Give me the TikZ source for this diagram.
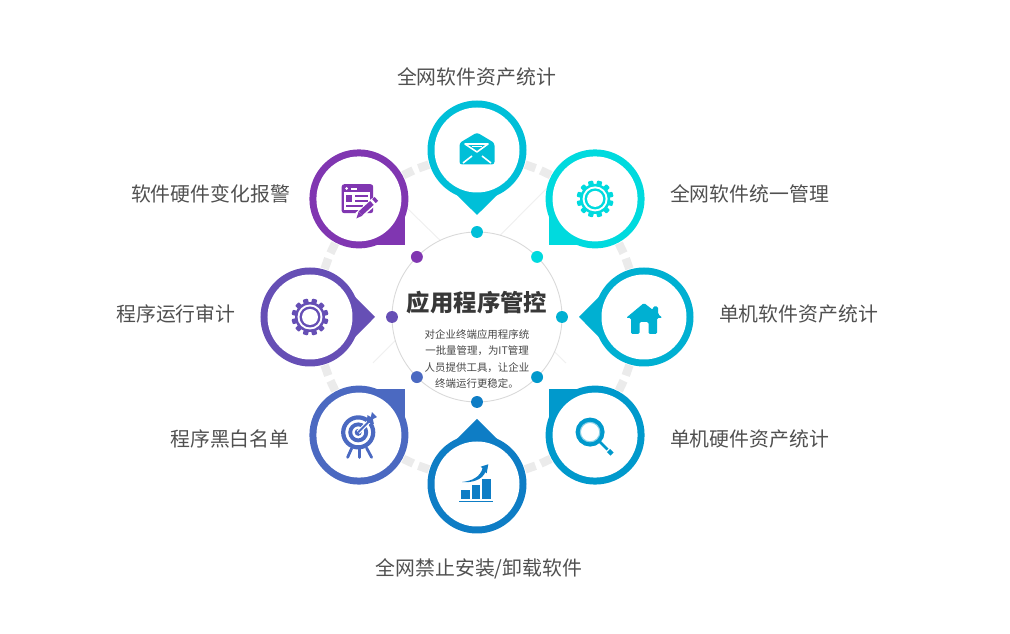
\documentclass[tikz,border=0pt]{standalone}
\usepackage{fontspec}
\setmainfont{Noto Sans CJK SC}
\definecolor{pinA}{HTML}{00BFD8}
\definecolor{pinB}{HTML}{00DADE}
\definecolor{pinC}{HTML}{00B0D2}
\definecolor{pinD}{HTML}{0099CC}
\definecolor{pinE}{HTML}{0E7DC5}
\definecolor{pinF}{HTML}{4B69C1}
\definecolor{pinG}{HTML}{664FB5}
\definecolor{pinH}{HTML}{8036B1}
\definecolor{labelgray}{HTML}{505050}
\newcommand{\gearicon}[1]{%
    \fill[#1] (0,0) circle (15);
    \foreach \tooth in {0,...,11}{
        \fill[#1,rotate=\tooth*30+15,rounded corners=0.5] (-2.6,13) rectangle (2.6,18.5);
    }
    \fill[white] (0,0) circle (12.5);
    \fill[#1] (0,0) circle (10.5);
    \fill[white] (0,0) circle (8);
}
\tikzset{
    sidelabel/.style={font=\fontsize{11.3}{13}\selectfont,text=labelgray,inner sep=0pt},
    dotnode/.style={circle,fill=#1,minimum size=6.8mm,scale=0.35,inner sep=0pt},
}
\begin{document}
\begin{tikzpicture}[x=0.02cm,y=0.02cm]
    \useasboundingbox (-477,-317) rectangle (533,317);

    % draw the thin background lines
    \draw[black!6,line width=0.6pt] (-107,145) -- (89,-46);
    \draw[black!6,line width=0.6pt] (90,149) -- (-104,-46);

    % draw the gray marks on the back ring
    \foreach \mark in {19.5,25.5,64.5,70.5,109.5,115.5,154.5,160.5,199.5,205.5,244.5,250.5,289.5,295.5,334.5,340.5}{
        \fill[black!8,rotate=\mark] (155.5,-5.5) rectangle (164,5.5);
    }

    % clear the middle and draw the thin ring
    \fill[white] (0,0) circle (85);
    \draw[black!15,line width=0.5pt] (0,0) circle (85);

    % draw the eight pins
    \foreach \ang/\col in {90/pinA,45/pinB,0/pinC,-45/pinD,-90/pinE,-135/pinF,180/pinG,135/pinH}{
        \begin{scope}[shift={(\ang:167)}]
            \fill[\col] (\ang+135:46) -- (\ang+180:65) -- (\ang+225:46) -- (0,0) -- cycle;
            \fill[\col] (0,0) circle (49.5);
            \fill[white] (0,0) circle (42.5);
        \end{scope}
    }

    % draw the dots on the thin ring
    \foreach \ang/\col in {90/pinA,45/pinB,0/pinC,-45/pinD,-90/pinE,-135/pinF,180/pinG,135/pinH}{
        \node[dotnode=\col] (dot\col) at (\ang:85) {};
    }

    % draw envelope icon
    \begin{scope}[shift={(90:167)}]
        \fill[pinA,rounded corners=1.5] (-17.5,7) -- (0,17.5) -- (17.5,7) -- (17.5,-14.5) -- (-17.5,-14.5) -- cycle;
        \draw[white,line width=0.9pt,line join=round] (-12,6) -- (11,6) -- (0,-2) -- cycle;
        \fill[white] (-5,2.5) rectangle (5,4.2);
        \draw[white,line width=0.9pt] (-14,-13) -- (-5,-6);
        \draw[white,line width=0.9pt] (14,-13) -- (5,-6);
    \end{scope}

    % draw gear icons
    \begin{scope}[shift={(45:167)}]
        \gearicon{pinB}
    \end{scope}
    \begin{scope}[shift={(180:167)}]
        \gearicon{pinG}
    \end{scope}

    % draw house icon
    \begin{scope}[shift={(0:167)}]
        \fill[pinC,rounded corners=0.8] (-18,-1) -- (0,14) -- (9,7) -- (9,10.5) -- (14,10.5) -- (14,3) -- (18.5,-1)
            -- (13,-1) -- (13,-17) -- (4.5,-17) -- (4.5,-5) -- (-4.5,-5) -- (-4.5,-17) -- (-13,-17) -- (-13,-1) -- cycle;
    \end{scope}

    % draw magnifier icon
    \begin{scope}[shift={(-45:167)}]
        \draw[pinD,line width=2.6pt] (-5,3) circle (12.2);
        \draw[pinD!45,line width=0.6pt] (-5,3) circle (9.7);
        \draw[pinD,line width=1.6pt] (5,-7) -- (12.5,-14.5);
        \draw[pinD,line width=2.6pt] (13.5,-15.5) -- (17,-19);
    \end{scope}

    % draw chart icon
    \begin{scope}[shift={(-90:167)}]
        \fill[pinE] (-16,-6) rectangle (-7,-15);
        \fill[pinE] (-5.3,-1) rectangle (3,-15);
        \fill[pinE] (5,5) rectangle (13.7,-15);
        \fill[pinE] (-18,-16.7) rectangle (16,-18.3);
        \fill[pinE] (-15,2) .. controls (-5,3) and (3,7) .. (5.5,15.5) -- (3.7,17.3) -- (11.3,19.7) -- (9.7,10.7) -- (8.5,12)
            .. controls (5,4) and (-5,1) .. (-15,2) -- cycle;
    \end{scope}

    % draw target icon
    \begin{scope}[shift={(-135:167)}]
        \draw[pinF,line width=2.4pt] (-0.7,2.7) circle (15);
        \draw[pinF,line width=2.2pt] (-0.7,2.7) circle (8);
        \fill[pinF] (-0.7,2.7) circle (3.5);
        \draw[pinF,line width=1.6pt,line cap=round] (-7.3,-13.3) -- (-11.3,-22.3);
        \draw[pinF,line width=1.6pt,line cap=round] (0.3,-14) -- (0.3,-22.3);
        \draw[pinF,line width=1.6pt,line cap=round] (7.7,-13) -- (12.7,-22.3);
        \draw[white,line width=2.4pt] (-0.7,2.7) -- (11,14.5);
        \draw[pinF,line width=1.1pt] (-0.7,2.7) -- (11,14.5);
        \fill[pinF] (8,13) -- (8.5,20) -- (12,18) -- (13,23) -- (18,18) -- (14,16) -- (15,11) -- cycle;
    \end{scope}

    % draw form and pencil icon
    \begin{scope}[shift={(135:167)}]
        \fill[pinH,rounded corners=1.5] (-17.3,14.7) rectangle (14.3,-14.3);
        \fill[white] (-12.3,10.3) circle (1.5);
        \fill[white] (-8,9.3) rectangle (-2,11.3);
        \fill[white] (-14.5,6.5) rectangle (11.5,-11.5);
        \fill[pinH] (-12.5,3.5) rectangle (-6.5,-3.5);
        \fill[pinH] (-4,3.5) rectangle (9.5,1.8);
        \fill[pinH] (-4,-1.5) rectangle (9.5,-3.2);
        \fill[pinH] (-12.5,-6.5) rectangle (4,-8.2);
        \draw[white,line width=4.4pt] (-1,-17) -- (16,-2);
        \draw[pinH,line width=3pt] (1.5,-14.5) -- (13,-4);
        \draw[pinH,line width=3pt] (15,-2.2) -- (17.5,0);
        \fill[pinH] (-2.5,-19.5) -- (3.5,-16.8) -- (-0.3,-12.8) -- cycle;
    \end{scope}

    % write the labels round the pins
    \node[sidelabel] (lblA) at (-0.5,240.5) {全网软件资产统计};
    \node[sidelabel] (lblB) at (272.5,123.5) {全网软件统一管理};
    \node[sidelabel] (lblC) at (321.5,3.5) {单机软件资产统计};
    \node[sidelabel] (lblD) at (272.5,-121.5) {单机硬件资产统计};
    \node[sidelabel] (lblE) at (2,-251.5) {全网禁止安装/卸载软件};
    \node[sidelabel] (lblF) at (-247,-121.5) {程序黑白名单};
    \node[sidelabel] (lblG) at (-301,3.5) {程序运行审计};
    \node[sidelabel] (lblH) at (-266.5,123.5) {软件硬件变化报警};

    % write the text in the middle
    \node[font=\fontsize{13.3}{15}\selectfont\bfseries,text=black!78,inner sep=0pt] (title) at (0,14) {应用程序管控};
    \node[font=\fontsize{5.95}{9.35}\selectfont,text=black!72,align=center,inner sep=0pt] (intro) at (0,-42) {对企业终端应用程序统\\一批量管理，为IT管理\\人员提供工具，让企业\\终端运行更稳定。};
\end{tikzpicture}
\end{document}
